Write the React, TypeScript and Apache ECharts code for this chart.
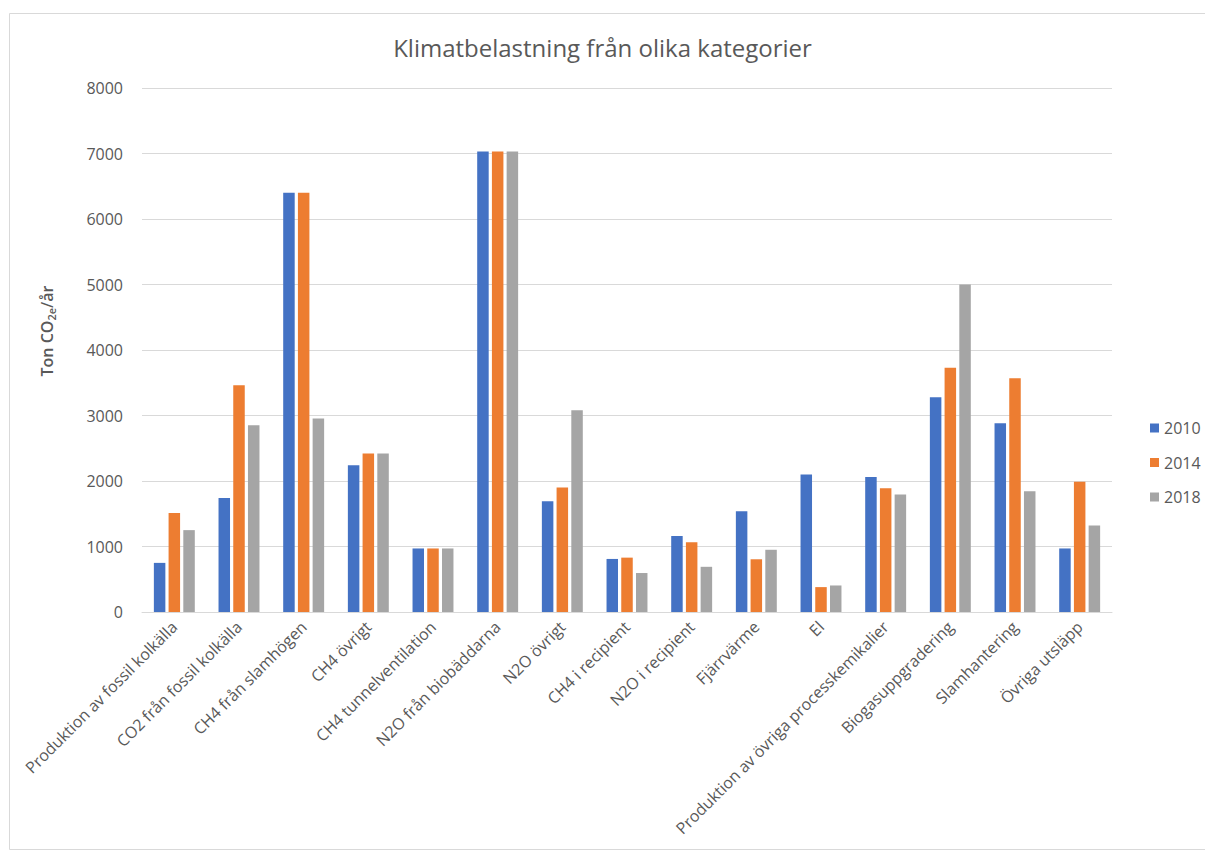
import React, { useEffect, useRef } from "react";
import * as echarts from "echarts";

const categories = [
  "Produktion av fossil kolkälla",
  "CO2 från fossil kolkälla",
  "CH4 från slamhögen",
  "CH4 övrigt",
  "CH4 tunnelventilation",
  "N2O från biobäddarna",
  "N2O övrigt",
  "CH4 i recipient",
  "N2O i recipient",
  "Fjärrvärme",
  "El",
  "Produktion av övriga processkemikalier",
  "Biogasuppgradering",
  "Slamhantering",
  "Övriga utsläpp",
];

const years = ["2010", "2014", "2018"];
const values2010 = [750, 1740, 6400, 2240, 970, 7030, 1690, 810, 1160, 1540, 2100, 2060, 3280, 2880, 970];
const values2014 = [1510, 3460, 6400, 2420, 970, 7030, 1900, 830, 1065, 805, 380, 1890, 3730, 3570, 1990];
const values2018 = [1250, 2850, 2955, 2420, 970, 7030, 3080, 595, 690, 950, 405, 1795, 5000, 1845, 1320];
const yearColors = ["#4472C4", "#ED7D31", "#A5A5A5"];

const FONT = "'Open Sans', 'Noto Sans', sans-serif";
const TEXT = "#595959";

export default function App() {
  const ref = useRef<HTMLDivElement>(null);

  useEffect(() => {
    if (!ref.current) return;
    const chart = echarts.init(ref.current, undefined, { renderer: "svg" });
    const seriesValues = [values2010, values2014, values2018];

    chart.setOption({
      animation: false,
      backgroundColor: "#ffffff",
      title: {
        text: "Klimatbelastning från olika kategorier",
        left: "center",
        top: 30,
        textStyle: { fontFamily: FONT, fontSize: 24, fontWeight: "normal", color: TEXT },
      },
      grid: { left: 142, right: 93, top: 88, bottom: 240 },
      legend: {
        orient: "vertical",
        left: 1145,
        top: 415,
        icon: "rect",
        itemWidth: 9,
        itemHeight: 9,
        itemGap: 18.5,
        textStyle: { fontFamily: FONT, fontSize: 16, color: TEXT, lineHeight: 16 },
        data: years,
      },
      xAxis: {
        type: "category",
        data: categories,
        axisTick: { show: false },
        axisLine: { lineStyle: { color: "#d9d9d9", width: 1 } },
        axisLabel: {
          interval: 0,
          rotate: 45,
          margin: 12,
          fontFamily: FONT,
          fontSize: 16,
          color: TEXT,
        },
      },
      yAxis: {
        type: "value",
        min: 0,
        max: 8000,
        interval: 1000,
        axisLine: { show: false },
        axisTick: { show: false },
        splitLine: { lineStyle: { color: "#d9d9d9", width: 1 } },
        axisLabel: {
          margin: 19,
          fontFamily: FONT,
          fontSize: 16,
          color: TEXT,
          formatter: (v: number) => String(v),
        },
      },
      graphic: [
        {
          type: "rect",
          shape: { x: 9.5, y: 13.5, width: 1200, height: 836 },
          style: { fill: "none", stroke: "#d9d9d9", lineWidth: 1 },
          silent: true,
        },
        {
          type: "text",
          x: 47,
          y: 331,
          rotation: Math.PI / 2,
          style: {
            text: "{a|Ton CO}{s|2e}{a|/år}",
            align: "center",
            verticalAlign: "middle",
            rich: {
              a: { fontFamily: FONT, fontSize: 16, fontWeight: 600, fill: TEXT, lineHeight: 20 },
              s: {
                fontFamily: FONT,
                fontSize: 11,
                fontWeight: 600,
                fill: TEXT,
                lineHeight: 11,
                verticalAlign: "bottom",
              },
            },
          },
        },
      ],
      series: years.map((y, i) => ({
        name: y,
        type: "bar",
        data: seriesValues[i],
        barWidth: 11.5,
        barGap: "28%",
        itemStyle: { color: yearColors[i] },
      })),
    });

    return () => chart.dispose();
  }, []);

  return (
    <div
      ref={ref}
      style={{ position: "absolute", left: 0, top: 0, width: 1205, height: 852 }}
    />
  );
}
